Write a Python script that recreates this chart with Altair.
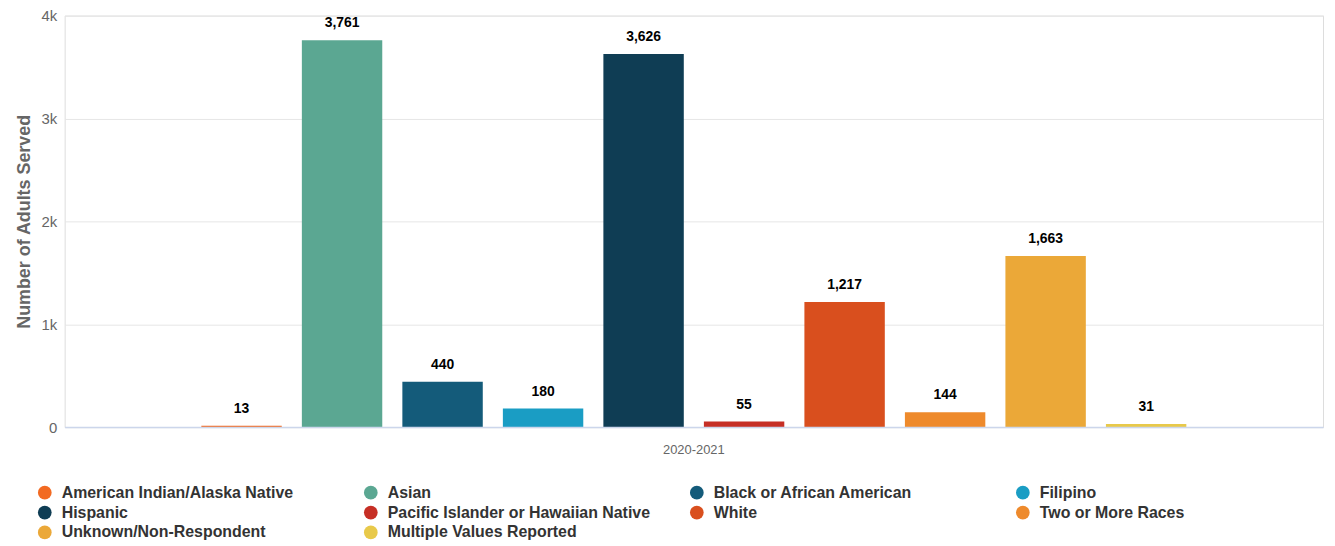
import altair as alt
import pandas as pd

years = ["2020-2021"] * 10
categories = [
    "American Indian/Alaska Native",
    "Asian",
    "Black or African American",
    "Filipino",
    "Hispanic",
    "Pacific Islander or Hawaiian Native",
    "White",
    "Two or More Races",
    "Unknown/Non-Respondent",
    "Multiple Values Reported",
]
values = [13, 3761, 440, 180, 3626, 55, 1217, 144, 1663, 31]
colors = [
    "#F26A22", "#5BA792", "#145B7A", "#1A9DC4", "#0F3D54",
    "#C62F25", "#D94F1E", "#EE8A2C", "#EBA838", "#E8C94A",
]

df = pd.DataFrame({"year": years, "category": categories, "value": values})

FONT = "Liberation Sans"

x = alt.X("year:N", title=None,
          scale=alt.Scale(paddingInner=0, paddingOuter=0.126),
          axis=alt.Axis(labelAngle=0, labelColor="#666666", labelFontSize=13,
                        labelFont=FONT, ticks=False, domainColor="#ccd6eb",
                        domainWidth=1.5, zindex=1,
                        labelPadding=17, grid=False))
xo = alt.XOffset("category:N",
                 scale=alt.Scale(domain=categories, paddingInner=0.2, paddingOuter=0.1))
y = alt.Y("value:Q", title="Number of Adults Served",
          scale=alt.Scale(domain=[0, 4000], nice=False),
          axis=alt.Axis(values=[0, 1000, 2000, 3000, 4000],
                        labelExpr="datum.value == 0 ? '0' : format(datum.value / 1000, 'd') + 'k'",
                        labelColor="#666666", labelFontSize=15, labelFont=FONT,
                        ticks=False, domain=False, gridColor="#e6e6e6",
                        titleColor="#666666", titleFontSize=18, titleFont=FONT,
                        titleFontWeight="bold", titleX=-40, titleBaseline="middle",
                        labelPadding=8))

color = alt.Color("category:N",
                  scale=alt.Scale(domain=categories, range=colors),
                  legend=alt.Legend(title=None, orient="none", legendX=-28, legendY=472,
                                    direction="horizontal",
                                    columns=4, symbolType="circle", symbolSize=190,
                                    symbolStrokeWidth=0, labelFont=FONT, labelFontSize=16,
                                    labelFontWeight="bold", labelColor="#333333",
                                    gridAlign="all", columnPadding=38, rowPadding=4,
                                    labelLimit=400, symbolOffset=0, labelOffset=9,
                                    values=categories))

bars = alt.Chart(df).mark_bar().encode(x=x, xOffset=xo, y=y, color=color)
labels = alt.Chart(df).mark_text(dy=-10, fontWeight="bold", fontSize=14, font=FONT,
                                 color="#000000", baseline="bottom").encode(
    x=x, xOffset=xo, y=y, text=alt.Text("value:Q", format=","))

chart = (bars + labels).properties(
    width=1266, height=414,
    autosize=alt.AutoSizeParams(type="none"),
    padding={"left": 57, "top": 6, "right": 4, "bottom": 118},
).configure_view(stroke="#e6e6e6").configure(background="white")

chart.save("out.html", embed_options={"renderer": "svg", "actions": False})
